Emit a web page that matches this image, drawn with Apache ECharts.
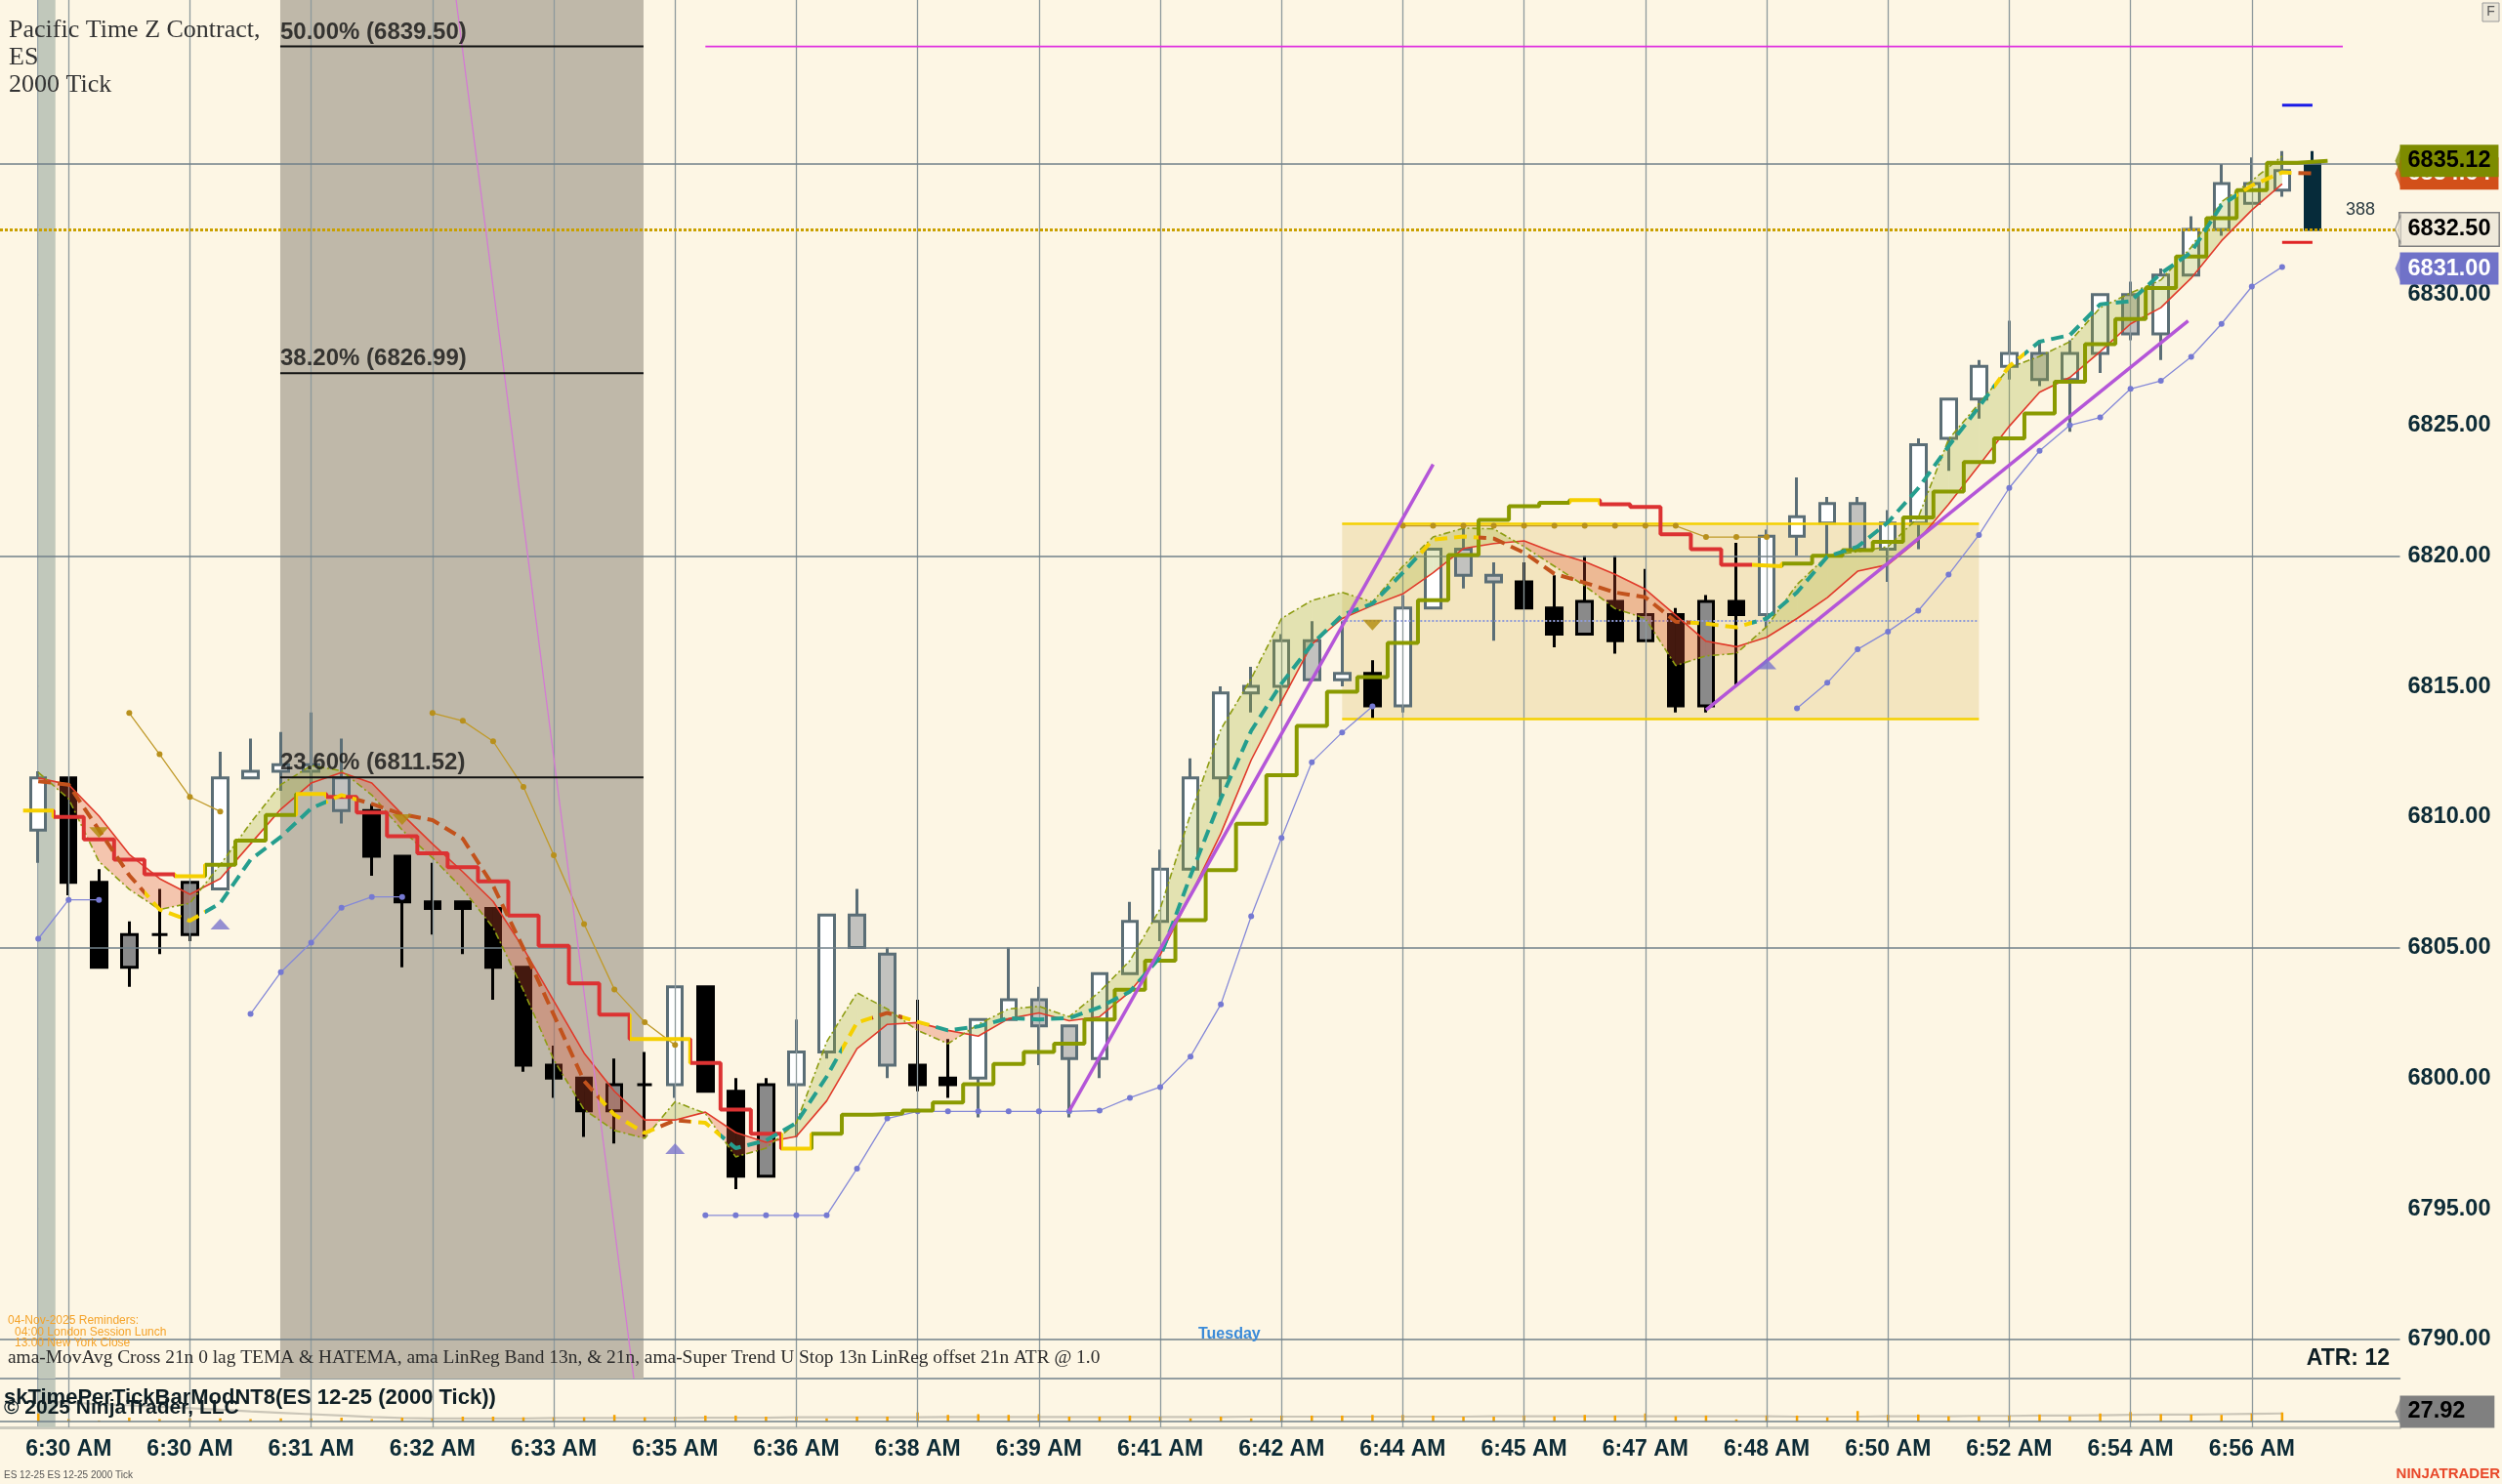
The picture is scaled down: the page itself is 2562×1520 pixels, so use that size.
<!DOCTYPE html>
<html>
<head>
<meta charset="utf-8">
<title>ES 12-25 2000 Tick</title>
<script src="https://cdn.jsdelivr.net/npm/echarts@6.0.0/dist/echarts.min.js"></script>
<style>
html,body{margin:0;padding:0;background:#fdf6e4;overflow:hidden;}
#chart{width:2562px;height:1520px;}
</style>
</head>
<body>
<div id="chart"></div>
<script>
// ================= DATA =================
const timeLabels = ['6:30 AM','6:30 AM','6:31 AM','6:32 AM','6:33 AM','6:35 AM','6:36 AM','6:38 AM','6:39 AM','6:41 AM','6:42 AM','6:44 AM','6:45 AM','6:47 AM','6:48 AM','6:50 AM','6:52 AM','6:54 AM','6:56 AM'];
const labelBars = [1,5,9,13,17,21,25,29,33,37,41,45,49,53,57,61,65,69,73];

const opens = [6809.5,6811.5,6807.5,6804.25,6805.5,6805.5,6807.25,6811.5,6811.75,6812,
 6811.5,6810.25,6808.5,6806.75,6806.75,6806.5,6804.25,6800.5,6800,6798.75,
 6799.75,6799.75,6803.5,6799.5,6796.25,6799.75,6801,6806.25,6804.75,6800.5,
 6800,6800,6802.25,6803,6802,6800.75,6804,6806,6808,6811.5,
 6814.75,6815,6816.75,6815.25,6815.5,6814.25,6818,6820.25,6819.25,6819,
 6818,6817,6818.25,6816.75,6817.75,6814.25,6818.25,6817.75,6820.75,6821.25,
 6822,6820.25,6821.25,6824.5,6826,6827.25,6827.75,6826.75,6827.75,6830,
 6828.5,6830.75,6832.5,6833.5,6834,6835];
const highs = [6811.75,6811.5,6808,6806,6807.25,6807.5,6812.5,6813,6813.25,6814,
 6813,6810.5,6808.5,6808.25,6806.75,6806.5,6804.25,6801.25,6800,6800.75,
 6801,6803.5,6803.5,6800,6800,6802.25,6806.25,6807.25,6805,6803,
 6801.5,6802.25,6805,6803.5,6802,6804,6806.75,6808.75,6812.25,6815,
 6815.75,6817,6817.5,6817.5,6816,6818.5,6820.25,6821.25,6819.75,6819.75,
 6819.25,6820,6820,6819.5,6818,6818.5,6820.5,6821,6823,6822.25,
 6822.25,6821.75,6824.5,6826,6827.5,6829,6828.25,6828.25,6830,6830.5,
 6831,6833,6835,6835.25,6835.5,6835.5];
const lows = [6808.25,6807,6804.25,6803.5,6804.75,6805.25,6807.25,6811.5,6811,6811,
 6809.75,6807.75,6804.25,6805.5,6804.75,6803,6800.25,6799.25,6797.75,6797.5,
 6797.75,6799.25,6799.5,6795.75,6796.25,6797.75,6800.75,6805,6800,6799.5,
 6799.25,6798.5,6802.25,6800.5,6798.5,6800,6804,6805.25,6808,6810.75,
 6814,6814.25,6815.25,6815,6813.75,6814,6818,6818.75,6816.75,6818,
 6816.5,6817,6816.25,6816.75,6814,6814,6815,6817.25,6820,6820,
 6820.25,6819,6820.25,6823.25,6825.25,6826.75,6826.5,6824.75,6827,6828.25,
 6827.5,6830.75,6832.25,6833.5,6833.75,6832.5];
const closes = [6811.5,6807.5,6804.25,6805.5,6805.5,6807.5,6811.5,6811.75,6812,6811.75,
 6810.25,6808.5,6806.75,6806.5,6806.5,6804.25,6800.5,6800,6798.75,6799.75,
 6799.75,6803.5,6799.5,6796.25,6799.75,6801,6806.25,6805,6800.5,6799.75,
 6799.75,6802.25,6803,6802,6800.75,6804,6806,6808,6811.5,6814.75,
 6815,6816.75,6815.25,6815.5,6814.25,6818,6820.25,6819.25,6819,6818,
 6817,6818.25,6816.75,6817.75,6814.25,6818.25,6817.75,6820.75,6821.5,6822,
 6820.25,6821.25,6824.25,6826,6827.25,6827.75,6826.75,6827.75,6830,6828.5,
 6830.75,6832.5,6834.25,6834.25,6834.75,6832.5];
// bar paint state: U = up-trend paint, D = down-trend paint, C = current bar
const barTrend = ('U'+'DDDDD'+'UUUUU'+'DDDDDDDDDD'+'U'+'DDD'+'UUUU'+'DD'+'UUUUUUUUUUUUU'+'D'+'UUUU'+'DDDDDDDD'+'UUUUUUUUUUUUUUUUUU'+'C').split('');

// Super Trend U Stop
const stopLine = [6810.25,6810,6809.14,6808.37,6807.81,6807.73,6808.17,6809.1,6810.08,6810.88,
 6810.77,6810.17,6809.26,6808.61,6808.08,6807.54,6806.23,6805.07,6803.63,6802.43,
 6801.5,6801.5,6800.58,6798.8,6797.87,6797.3,6797.87,6798.6,6798.65,6798.76,
 6799.07,6799.77,6800.55,6801,6801.32,6802.25,6803.39,6804.5,6806.05,6807.97,
 6809.74,6811.6,6813.49,6814.8,6815.36,6816.67,6818.3,6820.03,6821.38,6821.9,
 6822.03,6822.13,6821.97,6821.87,6820.82,6820.25,6819.66,6819.6,6819.7,6820,
 6820.22,6820.53,6821.47,6822.46,6823.59,6824.5,6825.45,6826.66,6828.1,6829.07,
 6830.25,6831.46,6832.93,6834,6835.05,6835.12];
const stopState = ('Y'+'RRRR'+'Y'+'GGG'+'Y'+'RRRRRRRRRR'+'YY'+'RRR'+'Y'+'GGGGGGGGGGGGGGGGGGGGGGGGG'+'Y'+'RRRRR'+'Y'+'GGGGGGGGGGGGGGGGGG').split('');

// 0 lag TEMA (dashed)
const temaLine = [6811.37,6811.24,6809.5,6807.77,6806.46,6806.03,6806.7,6808.37,6809.24,6810.33,
 6810.84,6810.5,6810.1,6809.88,6809.17,6807.37,6804.97,6802.43,6799.89,6798.6,
 6797.9,6798.39,6798.29,6797.32,6797.62,6798.29,6800.06,6802.13,6802.5,6802.16,
 6801.83,6801.98,6802.3,6802.25,6802.3,6802.72,6803.31,6804.64,6807.75,6810.7,
 6813.3,6815.11,6816.61,6817.73,6818.17,6819.35,6820.62,6820.74,6820.66,6820.12,
 6819.31,6818.97,6818.6,6818.41,6817.48,6817.4,6817.26,6817.6,6818.6,6819.97,
 6820.35,6821.28,6822.59,6824.2,6825.7,6827.26,6828.2,6828.45,6829.63,6829.75,
 6830.81,6831.62,6833.43,6834.18,6834.68,6834.64];
const temaState = ('RRRR'+'YY'+'TTTT'+'Y'+'RRRRRRRR'+'YY'+'R'+'Y'+'TTTT'+'Y'+'R'+'Y'+'TTTTTTTTTTTTTTTT'+'YY'+'RRRRRRR'+'YY'+'TTTTTTTT'+'Y'+'TTTTTTT'+'YY'+'R').split('');

// HATEMA (thin red)
const hatemaLine = [6811.5,6811.24,6810.04,6808.57,6807.64,6807.04,6807.64,6808.97,6810.3,6811.3,
 6811.7,6811.3,6810.1,6808.97,6807.9,6806.77,6804.97,6802.96,6800.96,6799.5,
 6798.4,6798.4,6798.7,6797.92,6797.55,6797.77,6799.13,6801.13,6802.06,6802.13,
 6801.83,6801.61,6802.28,6802.5,6802.2,6802.35,6803.31,6804.72,6807,6809.37,
 6812.18,6814.43,6816.61,6817.6,6818.1,6818.54,6819.35,6820.28,6820.47,6820.57,
 6820.12,6819.78,6819.29,6818.72,6817.73,6816.73,6816.52,6816.88,6817.6,6818.4,
 6819.41,6819.66,6820.6,6821.97,6823.46,6824.96,6826.26,6826.83,6827.82,6828.88,
 6829.5,6830.63,6832.06,6833.24,6834.24,null];
// LinReg band edge (olive dash-dot)
const bandEdge = [6811.71,6810.7,6808.3,6807.23,6806.46,6806.7,6808.17,6809.77,6811.24,6811.97,
 6811.77,6810.84,6809.5,6808.44,6807.24,6805.77,6803.36,6800.7,6798.8,6798,
 6797.7,6799.1,6798.65,6796.99,6797.32,6798.29,6801.39,6803.27,6802.65,6801.83,
 6801.32,6802.06,6802.65,6802.75,6802.35,6803.31,6804.5,6806.49,6810.11,6813.36,
 6815.3,6817.6,6818.29,6818.6,6818.23,6819.6,6820.72,6821.06,6821.03,6820.35,
 6819.6,6818.85,6817.98,6817.6,6815.8,6816.17,6816.26,6817.29,6818.9,6820,
 6820.16,6820.35,6821.47,6824.46,6825.83,6827.2,6827.64,6828.2,6829.5,6830.06,
 6830.56,6831.81,6833.55,6834.36,6835.3,null];
// lower dotted line (blue)
const lowerDots = [6805.34,6806.83,6806.83,null,null,null,null,6802.46,6804.06,6805.19,
 6806.53,6806.94,6806.94,null,null,null,null,null,null,null,
 null,null,6794.75,6794.75,6794.75,6794.75,6794.75,6796.54,6798.46,6798.73,
 6798.73,6798.73,6798.73,6798.73,6798.73,6798.76,6799.25,6799.66,6800.83,6802.83,
 6806.2,6809.2,6812.1,6813.24,6814.24,null,null,null,null,null,
 null,null,null,null,null,null,null,null,6814.16,6815.14,
 6816.42,6817.1,6817.9,6819.28,6820.8,6822.6,6824.02,6825.0,6825.3,6826.39,
 6826.7,6827.62,6828.88,6830.31,6831.06,null];
// upper dotted line (gold)
const upperDots = [null,null,null,6813.98,6812.4,6810.77,6810.21,null,null,null,
 null,null,null,6813.98,6813.68,6812.9,6811.15,6808.54,6805.9,6803.4,
 6802.14,6801.27,null,null,null,null,null,null,null,null,
 null,null,null,null,null,null,null,null,null,null,
 null,null,null,null,null,6821.15,6821.15,6821.15,6821.15,6821.15,
 6821.15,6821.15,6821.15,6821.15,6821.15,6820.72,6820.72,6820.72,null,null,
 null,null,null,null,null,null,null,null,null,null,
 null,null,null,null,null,null];

const buySignals = [[6,6805.9],[21,6797.3],[57,6815.86]];
const sellSignals = [[2,6809.4],[12,6809.9],[44,6817.35]];
const projHigh = [[74,6837.25],[75,6837.25]];
const projLow = [[74,6832.0],[75,6832.0]];

// drawings
const shadeX = [7.98, 19.96];
const stripeX = [0, 0.565];
const fibX = [7.98, 19.96];
const fibLevels = [6839.5, 6826.99, 6811.52];
const fibNames = ['50.00% (6839.50)', '38.20% (6826.99)', '23.60% (6811.52)'];
const boxX = [43, 64];
const boxY = [6813.75, 6821.25];
const boxMid = 6817.5;
const trendA = [[34, 6798.75], [46, 6823.5]];
const trendB = [[55, 6814.1], [70.9, 6829.0]];
const pinkLine = [[13.78, 6841.28], [19.64, 6788.5]];
const magentaLine = [[22, 6839.5], [76, 6839.5]];
const hGrid = [6790, 6805, 6820, 6835];
const yLabelValues = [6790, 6795, 6800, 6805, 6810, 6815, 6820, 6825, 6830];
const yTickValues = [6790, 6795, 6800, 6805, 6810, 6815, 6820, 6825, 6830, 6835, 6840];
const lastPrice = 6832.5;
const tagStop = 6835.12, tagTema = 6834.64, tagLower = 6831.00;

// lower pane (skTimePerTickBarMod)
const volBars = [23,7,3,11,7,9,9,7,9,9,
 11,7,11,9,14,14,12,12,12,19,
 12,14,17,17,14,14,9,14,14,26,
 19,21,19,21,14,14,17,14,9,14,
 9,17,17,17,19,19,17,14,14,17,
 15,19,17,23,15,17,6,17,17,12,
 30,19,20,15,15,17,20,15,23,27,
 21,20,19,23,26,null];
const volAvg = [58,54,50,46,42,38,34,29,25,21,
 17,13,10,9,9,9,9,10,10,10,
 10,10,11,11,11,12,12,12,12,12,
 13,13,13,13,13,13,13,13,13,13,
 14,14,14,14,14,14,14,14,15,15,
 15,15,15,15,15,15,15,15,14,14,
 14,15,15,15,16,16,17,17,18,19,
 20,20,21,22,23,null];
const volLast = 27.92;

// ================= BUILD =================
const XMIN = -1.2625, XMAX = 77.885;
const YMIN = 6788.5, YMAX = 6841.28;
const GRID_R = 104.5;
const FONT = '"Liberation Sans", Arial, sans-serif';
const NARROW = '"Liberation Sans Narrow", "Liberation Sans", Arial, sans-serif';
const SERIF = '"Liberation Serif", "Times New Roman", serif';
const AXIS_TXT = '#0d2b36';

const pts = arr => arr.map((v, i) => [i, v == null ? '-' : v]);

function candleStyle(i) {
  const t = barTrend[i], up = closes[i] > opens[i], dn = closes[i] < opens[i];
  let fill, border;
  if (t === 'C') { fill = '#062b3a'; border = '#062b3a'; }
  else if (t === 'U') { border = '#5b6e76'; fill = dn ? '#c2c2bf' : '#ffffff'; }
  else { border = '#000000'; fill = up ? '#8a8a8a' : '#000000'; }
  return { color: fill, color0: fill, borderColor: border, borderColor0: border, borderColorDoji: border, borderWidth: 3 };
}
const candleData = opens.map((o, i) => ({ value: [i, o, closes[i], lows[i], highs[i]], itemStyle: candleStyle(i) }));

const stepPts = [];
stopLine.forEach((v, i) => { if (v != null) { stepPts.push([i - 0.5, v], [i + 0.5, v]); } });

function buildPieces(states, colors) {
  const pieces = [];
  let s = 0;
  for (let i = 1; i <= states.length; i++) {
    if (i === states.length || states[i] !== states[s]) {
      pieces.push({ gte: s === 0 ? -10 : s - 0.5, lt: i === states.length ? 100 : i - 0.5, color: colors[states[s]] });
      s = i;
    }
  }
  return pieces;
}

const bandSegs = [];
for (let i = 0; i < hatemaLine.length - 1; i++) {
  const c0 = hatemaLine[i], d0 = bandEdge[i], c1 = hatemaLine[i + 1], d1 = bandEdge[i + 1];
  if ([c0, d0, c1, d1].every(v => v != null)) bandSegs.push([i, c0, d0, c1, d1]);
}
const GREEN_FILL = 'rgba(160,172,40,0.27)';
const RED_FILL = 'rgba(226,82,50,0.30)';
function bandRender(params, api) {
  const i = api.value(0), c0 = api.value(1), d0 = api.value(2), c1 = api.value(3), d1 = api.value(4);
  const P = (x, y) => api.coord([x, y]);
  const s0 = d0 - c0, s1 = d1 - c1;
  const kids = [];
  if (s0 * s1 >= 0) {
    kids.push({ type: 'polygon', shape: { points: [P(i, c0), P(i + 1, c1), P(i + 1, d1), P(i, d0)] },
      style: { fill: (s0 + s1) >= 0 ? GREEN_FILL : RED_FILL } });
  } else {
    const t = s0 / (s0 - s1);
    const xm = i + t, ym = c0 + t * (c1 - c0);
    kids.push({ type: 'polygon', shape: { points: [P(i, c0), P(xm, ym), P(i, d0)] }, style: { fill: s0 > 0 ? GREEN_FILL : RED_FILL } });
    kids.push({ type: 'polygon', shape: { points: [P(xm, ym), P(i + 1, c1), P(i + 1, d1)] }, style: { fill: s1 > 0 ? GREEN_FILL : RED_FILL } });
  }
  return { type: 'group', children: kids };
}

const series = [];
function add(s) { series.push(s); return series.length - 1; }
const noLine = { color: 'rgba(0,0,0,0)', width: 1 };

// session shading + stripe
add({ type: 'line', data: [], z: 0, silent: true,
  markArea: { silent: true, data: [
    [{ xAxis: shadeX[0], itemStyle: { color: '#bfb8a9' } }, { xAxis: shadeX[1] }],
    [{ xAxis: stripeX[0], itemStyle: { color: '#c1c8bb' } }, { xAxis: stripeX[1] }]
  ] } });
// grid lines
add({ type: 'line', data: [], z: 1, silent: true,
  markLine: { silent: true, symbol: ['none', 'none'], label: { show: false },
    data: labelBars.map(b => ({ xAxis: b, lineStyle: { color: '#8e9a9d', width: 1.3, type: 'solid' } }))
      .concat(hGrid.map(v => ({ yAxis: v, lineStyle: { color: '#71818a', width: 1.5, type: 'solid' } }))) } });
// candles
add({ type: 'candlestick', z: 3, barWidth: 16, silent: true, data: candleData });
// zone box
add({ type: 'line', data: [], z: 4, silent: true,
  markArea: { silent: true, data: [[{ xAxis: boxX[0], yAxis: boxY[0], itemStyle: { color: 'rgba(222,190,105,0.30)' } }, { xAxis: boxX[1], yAxis: boxY[1] }]] },
  markLine: { silent: true, symbol: ['none', 'none'], label: { show: false }, data: [
    [{ coord: [boxX[0], boxY[1]], lineStyle: { color: '#f5d000', width: 2.5, type: 'solid' } }, { coord: [boxX[1], boxY[1]] }],
    [{ coord: [boxX[0], boxY[0]], lineStyle: { color: '#f5d000', width: 2.5, type: 'solid' } }, { coord: [boxX[1], boxY[0]] }],
    [{ coord: [boxX[0], boxMid], lineStyle: { color: '#8f9bd8', width: 2, type: 'dotted' } }, { coord: [boxX[1], boxMid] }]
  ] } });
// band fill
add({ type: 'custom', z: 5, silent: true, clip: true, renderItem: bandRender, data: bandSegs, encode: { x: 0, y: [1, 2, 3, 4] } });
// HATEMA thin red
add({ type: 'line', z: 6, silent: true, data: pts(hatemaLine), symbol: 'none', lineStyle: { color: '#e03a2a', width: 1.6 } });
// band edge dash-dot
add({ type: 'line', z: 6, silent: true, data: pts(bandEdge), symbol: 'none', lineStyle: { color: '#8d9c12', width: 1.6, type: [7, 3, 2, 3] } });
// lower dotted
add({ type: 'line', z: 6, silent: true, data: pts(lowerDots), symbol: 'circle', symbolSize: 6, showSymbol: true,
  itemStyle: { color: '#7579d2' }, lineStyle: { color: '#8589d8', width: 1.3 } });
// upper dotted
add({ type: 'line', z: 6, silent: true, data: pts(upperDots), symbol: 'circle', symbolSize: 6, showSymbol: true,
  itemStyle: { color: '#b8901c' }, lineStyle: { color: '#c09a2a', width: 1.3 } });
// pink diagonal + magenta level
add({ type: 'line', z: 6, silent: true, data: pinkLine, symbol: 'none', lineStyle: { color: '#d47ad4', width: 1.3 } });
add({ type: 'line', z: 6, silent: true, data: magentaLine, symbol: 'none', lineStyle: { color: '#e030e0', width: 1.8 } });
// fib lines
fibLevels.forEach(l => add({ type: 'line', z: 6, silent: true, data: [[fibX[0], l], [fibX[1], l]], symbol: 'none', lineStyle: { color: '#111111', width: 2 } }));
// stop step line
const idxStop = add({ type: 'line', z: 7, silent: true, data: stepPts, symbol: 'none', lineStyle: { width: 4 } });
// TEMA dashed
const idxTema = add({ type: 'line', z: 8, silent: true, data: pts(temaLine), symbol: 'none', lineStyle: { width: 4, type: [13, 7] } });
// trend lines
add({ type: 'line', z: 9, silent: true, data: trendA, symbol: 'none', lineStyle: { color: '#b456d8', width: 3.5 } });
add({ type: 'line', z: 9, silent: true, data: trendB, symbol: 'none', lineStyle: { color: '#b456d8', width: 3.5 } });
// signals
add({ type: 'scatter', z: 9, silent: true, data: buySignals, symbol: 'triangle', symbolSize: [20, 11], itemStyle: { color: '#7a76cc' } });
add({ type: 'scatter', z: 9, silent: true, data: sellSignals, symbol: 'triangle', symbolRotate: 180, symbolSize: [20, 11], itemStyle: { color: '#b08a0a' } });
// projected range
add({ type: 'line', z: 9, silent: true, data: projHigh, symbol: 'none', lineStyle: { color: '#1a1ae6', width: 3 } });
add({ type: 'line', z: 9, silent: true, data: projLow, symbol: 'none', lineStyle: { color: '#e02424', width: 3 } });
// fib labels
add({ type: 'scatter', z: 10, silent: true, symbolSize: 1, itemStyle: { color: 'rgba(0,0,0,0)' },
  data: fibLevels.map((l, k) => ({ value: [fibX[0], l], name: fibNames[k] })),
  label: { show: true, position: 'top', distance: 2, align: 'left', formatter: p => p.name,
    fontFamily: FONT, fontWeight: 'bold', fontSize: 24, color: '#111111' } });

function tag(value, bg, fg, z, border, lineStyle) {
  add({ type: 'line', data: [], z: z, silent: true,
    markLine: { silent: true, symbol: ['none', 'none'], data: [{ yAxis: value }],
      lineStyle: lineStyle || noLine,
      label: { show: true, position: 'end', distance: 0, formatter: value.toFixed(2),
        backgroundColor: bg, color: fg, borderColor: border || bg, borderWidth: border ? 1.5 : 0,
        padding: [5, 8, 4, 8], fontSize: 23.5, fontWeight: 'bold', fontFamily: FONT, lineHeight: 24 } } });
  // left-pointing arrow tip of the price tag
  add({ type: 'scatter', z: z, silent: true, clip: false, data: [[XMAX, value]], symbol: 'triangle', symbolRotate: 90,
    symbolSize: [29, 6], symbolOffset: [-2, 0], itemStyle: { color: bg, borderColor: border || bg, borderWidth: border ? 1.2 : 0 } });
}
tag(lastPrice, '#efe9da', '#000000', 10, '#7f7f7f', { color: '#c9a000', width: 3, type: [3, 2] });
tag(tagLower, '#7072c8', '#ffffff', 11);
tag(tagTema, '#d2501a', '#ffffff', 11);
tag(tagStop, '#7d8b00', '#000000', 12);

// lower pane
add({ type: 'line', xAxisIndex: 1, yAxisIndex: 1, data: [], z: 1, silent: true,
  markArea: { silent: true, data: [[{ xAxis: stripeX[0], itemStyle: { color: '#c1c8bb' } }, { xAxis: stripeX[1] }]] },
  markLine: { silent: true, symbol: ['none', 'none'], label: { show: false },
    data: labelBars.map(b => ({ xAxis: b, lineStyle: { color: '#8e9a9d', width: 1.3, type: 'solid' } }))
      .concat([{ yAxis: 0, lineStyle: { color: '#71818a', width: 1.5, type: 'solid' } }]) } });
add({ type: 'line', xAxisIndex: 1, yAxisIndex: 1, z: 2, silent: true, data: pts(volAvg), symbol: 'none', lineStyle: { color: '#cbc6b8', width: 2.2 } });
add({ type: 'bar', xAxisIndex: 1, yAxisIndex: 1, z: 3, silent: true, barWidth: 2.5, data: pts(volBars), itemStyle: { color: '#f5a300' },
  markLine: { silent: true, symbol: ['none', 'none'], data: [{ yAxis: volLast }], lineStyle: noLine,
    label: { show: true, position: 'end', distance: 0, formatter: volLast.toFixed(2), backgroundColor: '#808080', color: '#000000',
      padding: [5, 30, 4, 8], fontSize: 23.5, fontWeight: 'bold', fontFamily: FONT, lineHeight: 24 } } });
add({ type: 'scatter', xAxisIndex: 1, yAxisIndex: 1, z: 4, silent: true, clip: false, data: [[XMAX, volLast]], symbol: 'triangle', symbolRotate: 90,
  symbolSize: [29, 6], symbolOffset: [-2, 0], itemStyle: { color: '#808080' } });

const option = {
  animation: false,
  backgroundColor: '#fdf6e4',
  grid: [
    { left: 0, right: GRID_R, top: 0, height: 1412, outerBoundsMode: 'none' },
    { left: 0, right: GRID_R, top: 1413, height: 49, outerBoundsMode: 'none' }
  ],
  xAxis: [
    { gridIndex: 0, type: 'value', min: XMIN, max: XMAX,
      axisLine: { show: true, onZero: false, lineStyle: { color: '#71818a', width: 1.5 } },
      axisTick: { show: false }, axisLabel: { show: false }, splitLine: { show: false } },
    { gridIndex: 1, type: 'value', min: XMIN, max: XMAX,
      axisLine: { show: true, onZero: false, lineStyle: { color: '#cbc9bd', width: 3 } },
      axisTick: { show: false }, splitLine: { show: false },
      axisLabel: { show: true, customValues: labelBars, margin: 11,
        formatter: v => { const k = labelBars.indexOf(Math.round(v)); return k >= 0 ? timeLabels[k] : ''; },
        fontSize: 23, fontWeight: 'bold', fontFamily: FONT, color: AXIS_TXT } }
  ],
  yAxis: [
    { gridIndex: 0, type: 'value', position: 'right', min: YMIN, max: YMAX, scale: true,
      axisLine: { show: true, lineStyle: { color: '#9aa6ab', width: 2 } },
      axisTick: { show: true, customValues: yTickValues, length: 5, lineStyle: { color: '#71818a', width: 1.5 } },
      axisLabel: { show: true, customValues: yLabelValues, margin: 8, formatter: v => Number(v).toFixed(2),
        fontSize: 23.5, fontWeight: 'bold', fontFamily: FONT, color: AXIS_TXT },
      splitLine: { show: false } },
    { gridIndex: 1, type: 'value', position: 'right', min: -16.74, max: 120,
      axisLine: { show: true, lineStyle: { color: '#9aa6ab', width: 2 } },
      axisTick: { show: false }, axisLabel: { show: false }, splitLine: { show: false } }
  ],
  visualMap: [
    { type: 'piecewise', show: false, dimension: 0, seriesIndex: idxStop,
      pieces: buildPieces(stopState, { G: '#8a9a00', R: '#dc3232', Y: '#f5cf00' }) },
    { type: 'piecewise', show: false, dimension: 0, seriesIndex: idxTema,
      pieces: buildPieces(temaState, { T: '#259e8e', R: '#c2521c', Y: '#f5d000' }) }
  ],
  series: series,
  graphic: []
};

function T(x, y, text, font, fill, align) {
  return { type: 'text', x: x, y: y, silent: true, z: 100,
    style: { text: text, font: font, fill: fill, textAlign: align || 'left', textVerticalAlign: 'middle' } };
}
option.graphic = [
  T(9, 31, 'Pacific Time Z Contract,', '26px ' + SERIF, '#333333'),
  T(9, 59, 'ES', '26px ' + SERIF, '#333333'),
  T(9, 87, '2000 Tick', '26px ' + SERIF, '#333333'),
  T(8, 1353, '04-Nov-2025 Reminders:', '12px ' + NARROW, '#f5a32a'),
  T(15, 1364.5, '04:00 London Session Lunch', '12px ' + NARROW, '#f5a32a'),
  T(15, 1376, '13:00 New York Close', '12px ' + NARROW, '#f5a32a'),
  T(8, 1391, 'ama-MovAvg Cross 21n 0 lag TEMA & HATEMA, ama LinReg Band 13n, & 21n, ama-Super Trend U Stop 13n LinReg offset 21n ATR @ 1.0', '19.4px ' + SERIF, '#2b2b2b'),
  T(1227, 1367, 'Tuesday', 'bold 16px ' + FONT, '#3a8ad8'),
  T(4, 1432, 'skTimePerTickBarModNT8(ES 12-25 (2000 Tick))', 'bold 22px ' + FONT, '#0e1e24'),
  T(4, 1442, '\u00a9 2025 NinjaTrader, LLC', 'bold 21px ' + FONT, '#0e1e24'),
  T(2447, 1392, 'ATR: 12', 'bold 23px ' + FONT, '#0e1e24', 'right'),
  T(2402, 215, '388', '18px ' + FONT, '#2a3a40'),
  T(4, 1511, 'ES 12-25 ES 12-25 2000 Tick', '10px ' + FONT, '#555555'),
  T(2560, 1510, 'NINJATRADER', 'bold 15px ' + NARROW, '#e8482a', 'right'),
  { type: 'rect', silent: true, z: 100, shape: { x: 2542, y: 3, width: 17, height: 19 }, style: { fill: '#ebe6d8', stroke: '#9a9a9a', lineWidth: 1 } },
  T(2550.5, 12.5, 'F', '14px ' + FONT, '#555555', 'center')
];

const chart = echarts.init(document.getElementById('chart'), null, { renderer: 'canvas', width: 2562, height: 1520 });
chart.setOption(option);
</script>
</body>
</html>
